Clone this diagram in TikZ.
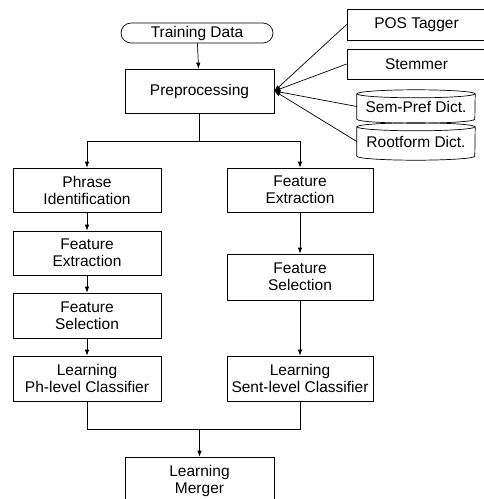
\documentclass[tikz,border=0pt]{standalone}
\usepackage{fontspec}
\setmainfont{Liberation Sans}
\usetikzlibrary{arrows.meta}
\begin{document}
\begin{tikzpicture}[x=1pt,y=-1pt,
  box/.style={draw, line width=0.7pt, inner sep=0pt, align=center, font=\fontsize{15.5}{17}\selectfont},
  plain/.style={inner sep=0pt, align=center, font=\fontsize{15.5}{17}\selectfont},
  arr/.style={-{Latex[length=6pt,width=4.5pt]}, line width=0.7pt},
  ln/.style={line width=0.7pt}]
\useasboundingbox (0,0) rectangle (483,499);
% nodes
\node[box, rounded corners=10pt, minimum width=152pt, minimum height=20pt] (train) at (197,33) {Training Data};
\node[box, minimum width=149pt, minimum height=44pt] (pre) at (199.5,91) {Preprocessing};
\node[box, minimum width=139pt, minimum height=31pt] (pos) at (416.5,24.5) {POS Tagger};
\node[box, minimum width=139pt, minimum height=30pt] (stem) at (416.5,64) {Stemmer};
\node[plain, minimum width=118pt, minimum height=33pt] (sem) at (416,106.5) {Sem-Pref Dict.};
\node[plain, minimum width=118pt, minimum height=37pt] (root) at (416,141.5) {Rootform Dict.};
\node[box, minimum width=148pt, minimum height=44pt] (phrase) at (87,190) {Phrase\\Identification};
\node[box, minimum width=148pt, minimum height=44pt] (lfe) at (87,253) {Feature\\Extraction};
\node[box, minimum width=148pt, minimum height=45pt] (lfs) at (87,315.5) {Feature\\Selection};
\node[box, minimum width=148pt, minimum height=45pt] (lph) at (87,378.5) {Learning\\Ph-level Classifier};
\node[box, minimum width=146pt, minimum height=44pt] (rfe) at (300,190) {Feature\\Extraction};
\node[box, minimum width=146pt, minimum height=46pt] (rfs) at (300,277) {Feature\\Selection};
\node[box, minimum width=146pt, minimum height=45pt] (rsent) at (300,378.5) {Learning\\Sent-level Classifier};
\node[box, minimum width=149pt, minimum height=48pt] (merger) at (199.5,481) {Learning\\Merger};
% cylinders
\draw[ln] ([yshift=-4pt]sem.north west) -- ([yshift=4pt]sem.south west)
  arc[start angle=180, end angle=360, x radius=59pt, y radius=4pt] -- ([yshift=-4pt]sem.north east);
\draw[ln] ([yshift=-4pt]sem.north) ellipse[x radius=59pt, y radius=4pt];
\draw[ln] ([yshift=-4pt]root.north west) -- ([yshift=4pt]root.south west)
  arc[start angle=180, end angle=360, x radius=59pt, y radius=4pt] -- ([yshift=-4pt]root.north east);
\draw[ln] ([yshift=-4pt]root.north) ellipse[x radius=59pt, y radius=4pt];
% connectors
\coordinate (split) at (199.5,141);
\coordinate (join) at (199.5,429);
\draw[arr] (train) -- (pre);
\draw[arr] (pos.west) -- (pre.east);
\draw[arr] (stem.west) -- (pre.east);
\draw[arr] (sem.west) -- (pre.east);
\draw[arr] (root.west) -- (pre.east);
\draw[ln] (pre.south) -- (split);
\draw[arr] (split) -| (phrase.north);
\draw[arr] (split) -| (rfe.north);
\draw[arr] (phrase) -- (lfe);
\draw[arr] (lfe) -- (lfs);
\draw[arr] (lfs) -- (lph);
\draw[arr] (rfe) -- (rfs);
\draw[arr] (rfs) -- (rsent);
\draw[ln] (lph.south) |- (join);
\draw[ln] (rsent.south) |- (join);
\draw[arr] (join) -- (merger.north);
\end{tikzpicture}
\end{document}
